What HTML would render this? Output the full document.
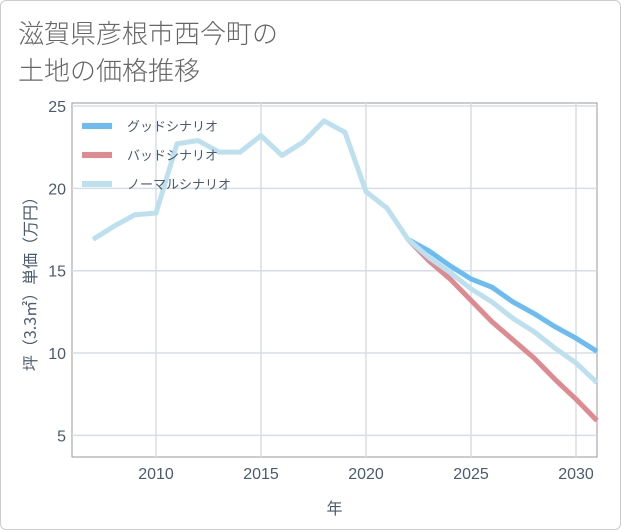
<!DOCTYPE html>
<html><head><meta charset="utf-8"><style>
body{margin:0;background:#fff;}
#wrap{position:relative;width:621px;height:530px;overflow:hidden;font-family:"Liberation Sans","Noto Sans CJK JP",sans-serif;}
#card{position:absolute;left:0;top:0;width:619px;height:528px;border:1px solid #ccc;border-radius:6px;}
.title{position:absolute;left:18px;font-size:26px;line-height:1.2;color:#666;font-family:"Noto Sans CJK JP",sans-serif;font-weight:300;}
</style></head><body>
<div id="wrap">
<div id="card"></div>
<div class="title" style="top:17px">滋賀県彦根市西今町の</div>
<div class="title" style="top:54px">土地の価格推移</div>
<svg id="chart" width="621" height="530" style="position:absolute;left:0;top:0"></svg>
</div>
<script>
const years=[2007,2008,2009,2010,2011,2012,2013,2014,2015,2016,2017,2018,2019,2020,2021,2022,2023,2024,2025,2026,2027,2028,2029,2030,2031];
const normal=[16.9,17.7,18.4,18.5,22.7,22.9,22.2,22.2,23.2,22.0,22.8,24.1,23.4,19.8,18.8,16.9,15.8,14.9,13.9,13.1,12.1,11.3,10.3,9.4,8.2];
const goodYears=[2022,2023,2024,2025,2026,2027,2028,2029,2030,2031];
const good=[16.9,16.2,15.3,14.5,14.0,13.1,12.4,11.6,10.9,10.1];
const bad=[16.9,15.6,14.5,13.2,11.9,10.8,9.7,8.4,7.2,5.9];
const xTicks=[2010,2015,2020,2025,2030];
const yTicks=[5,10,15,20,25];
const L=72,R=597,T=103,B=457;
const x=v=>L+(v-2006)*(R-L)/25;
const y=v=>106+(25-v)*16.47;
const svg=document.getElementById('chart');
const NS='http://www.w3.org/2000/svg';
function mk(t,a){const e=document.createElementNS(NS,t);for(const k in a)e.setAttribute(k,a[k]);svg.appendChild(e);return e;}
let fr=mk('rect',{x:L,y:T,width:R-L,height:B-T,fill:'none',stroke:'#999','stroke-width':1});


xTicks.forEach(t=>{
 let g=mk('line',{x1:x(t),x2:x(t),y1:T,y2:B,stroke:'#d5dde6','stroke-width':1.5});
 
 
 let l=mk('text',{x:x(t),y:B+22,'text-anchor':'middle','font-size':16,fill:'#4a5a70'});
 l.textContent=t;
 
 
});
yTicks.forEach(t=>{
 let g=mk('line',{x1:L,x2:R,y1:y(t),y2:y(t),stroke:'#d5dde6','stroke-width':1.5});
 
 
 let l=mk('text',{x:L-6,y:y(t)+6,'text-anchor':'end','font-size':16,fill:'#4a5a70'});
 l.textContent=t;
 
 
});
let xt=mk('text',{x:(L+R)/2,y:514,'text-anchor':'middle','font-size':16,fill:'#4a5a70','font-family':'Noto Sans CJK JP,sans-serif'});
xt.textContent='年';


let yt=mk('text',{x:0,y:0,'text-anchor':'middle','font-size':16,fill:'#4a5a70',transform:'translate(36,'+((T+B)/2)+') rotate(-90)','font-family':'Noto Sans CJK JP,sans-serif'});
yt.textContent='坪（3.3㎡）単価（万円）';


function line(xs,vs,c,name){
 let p=mk('polyline',{points:xs.map((v,i)=>x(v)+','+y(vs[i])).join(' '),fill:'none',stroke:c,'stroke-width':5,'stroke-linejoin':'round'});
 
 
}
line(goodYears,good,'#6bbcf2','good-scenario-line');
line(goodYears,bad,'#de8a90','bad-scenario-line');
line(years,normal,'#bde0ef','normal-scenario-line');
const legend=[['グッドシナリオ','#6bbcf2'],['バッドシナリオ','#de8a90'],['ノーマルシナリオ','#bde0ef']];
legend.forEach((d,i)=>{
 let yy=126+i*29;
 let s=mk('line',{x1:82,x2:112,y1:yy,y2:yy,stroke:d[1],'stroke-width':6});
 
 
 let t=mk('text',{x:127,y:yy+5,'font-size':13,fill:'#4a5a70','font-family':'Noto Sans CJK JP,sans-serif'});
 t.textContent=d[0];
 
 
});
</script>
</body></html>
